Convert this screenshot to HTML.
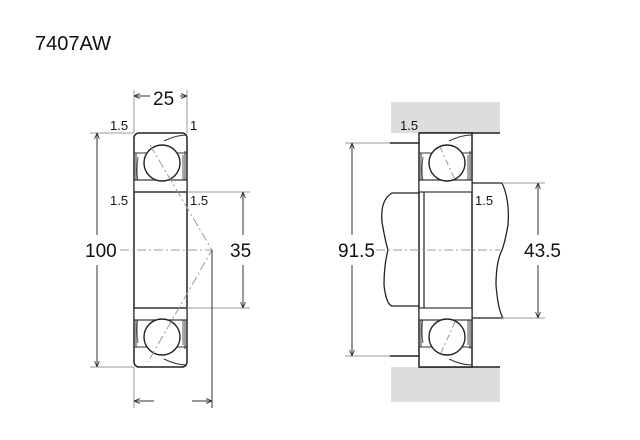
<!DOCTYPE html>
<html><head><meta charset="utf-8"><style>
html,body{margin:0;padding:0;background:#fff;}
svg{display:block;}
text{font-family:"Liberation Sans",sans-serif;fill:#111;}
</style></head><body>
<svg width="640" height="440" viewBox="0 0 640 440" xmlns="http://www.w3.org/2000/svg">
<defs>
<marker id="a" viewBox="0 0 10 10" refX="10" refY="5" markerWidth="6" markerHeight="6" orient="auto-start-reverse"><path d="M0,1 L10,5 L0,9" fill="none" stroke="#333" stroke-width="1.5"/></marker>
<g id="half">
  <line x1="0" y1="20" x2="53" y2="20" stroke="#333" stroke-width="1"/>
  <path d="M2,20 L2,57 M51,18 L51,57" stroke="#333" stroke-width="1" fill="none"/>
  <path d="M4,24 Q2,36 4,50 M49,22 L49,48" stroke="#555" stroke-width="1" fill="none"/>
  <path d="M30,8 Q42,2 53,2" stroke="#333" fill="none" stroke-width="1"/>
  <rect x="0" y="47" width="53" height="12" fill="#fff" stroke="#333" stroke-width="1.2"/>
  <circle cx="28" cy="30" r="18" fill="#fff" stroke="#222" stroke-width="1.4"/>
</g>
</defs>
<text x="35" y="50" font-size="20">7407AW</text>

<rect x="134" y="133" width="53" height="234" rx="5" fill="#fff" stroke="#222" stroke-width="1.5"/>
<use href="#half" x="134" y="133"/>
<g transform="translate(134,367) scale(1,-1)"><use href="#half"/></g>
<line x1="134" y1="192" x2="187" y2="192" stroke="#222" stroke-width="1.2"/>
<line x1="134" y1="308" x2="187" y2="308" stroke="#222" stroke-width="1.2"/>
<path d="M150,145 L212,250 L148,362" fill="none" stroke="#999" stroke-width="1" stroke-dasharray="9,3,2,3"/>
<line x1="120" y1="250" x2="212" y2="250" stroke="#999" stroke-width="1" stroke-dasharray="9,3,2,3"/>
<line x1="134" y1="90" x2="134" y2="133" stroke="#999"/>
<line x1="187" y1="90" x2="187" y2="133" stroke="#999"/>
<line x1="134" y1="96" x2="150" y2="96" stroke="#333" marker-start="url(#a)"/>
<line x1="180" y1="96" x2="187" y2="96" stroke="#333" marker-end="url(#a)"/>
<text x="153" y="105" font-size="19">25</text>
<line x1="90" y1="133" x2="134" y2="133" stroke="#999"/>
<line x1="90" y1="367" x2="134" y2="367" stroke="#999"/>
<line x1="97" y1="133" x2="97" y2="235" stroke="#333" marker-start="url(#a)"/>
<line x1="97" y1="265" x2="97" y2="367" stroke="#333" marker-end="url(#a)"/>
<text x="85" y="257" font-size="19">100</text>
<line x1="187" y1="192" x2="250" y2="192" stroke="#999"/>
<line x1="187" y1="308" x2="250" y2="308" stroke="#999"/>
<line x1="243" y1="192" x2="243" y2="235" stroke="#333" marker-start="url(#a)"/>
<line x1="243" y1="265" x2="243" y2="308" stroke="#333" marker-end="url(#a)"/>
<text x="230" y="257" font-size="19">35</text>
<line x1="134" y1="367" x2="134" y2="408" stroke="#999"/>
<line x1="212" y1="250" x2="212" y2="408" stroke="#333"/>
<line x1="134" y1="401" x2="154" y2="401" stroke="#333" marker-start="url(#a)"/>
<line x1="192" y1="401" x2="212" y2="401" stroke="#333" marker-end="url(#a)"/>
<text x="110" y="130" font-size="13">1.5</text>
<text x="190" y="130" font-size="13">1</text>
<text x="110" y="205" font-size="13">1.5</text>
<text x="190" y="205" font-size="13">1.5</text>

<rect x="391" y="102" width="109" height="31" fill="#ddd"/>
<rect x="391" y="367" width="109" height="35" fill="#ddd"/>
<line x1="419" y1="133" x2="500" y2="133" stroke="#222" stroke-width="1.5"/>
<line x1="419" y1="367" x2="500" y2="367" stroke="#222" stroke-width="1.5"/>
<line x1="390" y1="143" x2="419" y2="143" stroke="#222" stroke-width="1.5"/>
<line x1="390" y1="356" x2="419" y2="356" stroke="#222" stroke-width="1.5"/>
<path d="M420,193 L392,193 Q380,200 382,222 Q385,240 388,250 Q384,265 384,285 Q386,304 392,306 L420,306" fill="#fff" stroke="#222" stroke-width="1.3"/>
<path d="M472,183 L502,183 Q510,200 508,225 Q505,242 502,250 Q496,262 496,285 Q498,310 503,318 L472,318" fill="#fff" stroke="#222" stroke-width="1.3"/>
<rect x="419" y="133" width="53" height="234" fill="#fff" stroke="#222" stroke-width="1.5"/>
<use href="#half" x="419" y="133"/>
<g transform="translate(419,367) scale(1,-1)"><use href="#half"/></g>
<line x1="424" y1="192" x2="424" y2="308" stroke="#222" stroke-width="1.2"/>
<path d="M440,147 L455,180 M455,322 L440,355" stroke="#999" stroke-dasharray="6,3,2,3"/>
<line x1="376" y1="250" x2="500" y2="250" stroke="#999" stroke-dasharray="9,3,2,3"/>
<line x1="345" y1="143" x2="390" y2="143" stroke="#999"/>
<line x1="345" y1="356" x2="390" y2="356" stroke="#999"/>
<line x1="352" y1="143" x2="352" y2="235" stroke="#333" marker-start="url(#a)"/>
<line x1="352" y1="265" x2="352" y2="356" stroke="#333" marker-end="url(#a)"/>
<text x="338" y="257" font-size="19">91.5</text>
<line x1="502" y1="183" x2="545" y2="183" stroke="#999"/>
<line x1="502" y1="318" x2="545" y2="318" stroke="#999"/>
<line x1="538" y1="183" x2="538" y2="235" stroke="#333" marker-start="url(#a)"/>
<line x1="538" y1="265" x2="538" y2="318" stroke="#333" marker-end="url(#a)"/>
<text x="524" y="257" font-size="19">43.5</text>
<text x="400" y="130" font-size="13">1.5</text>
<text x="475" y="205" font-size="13">1.5</text>
</svg>
</body></html>
